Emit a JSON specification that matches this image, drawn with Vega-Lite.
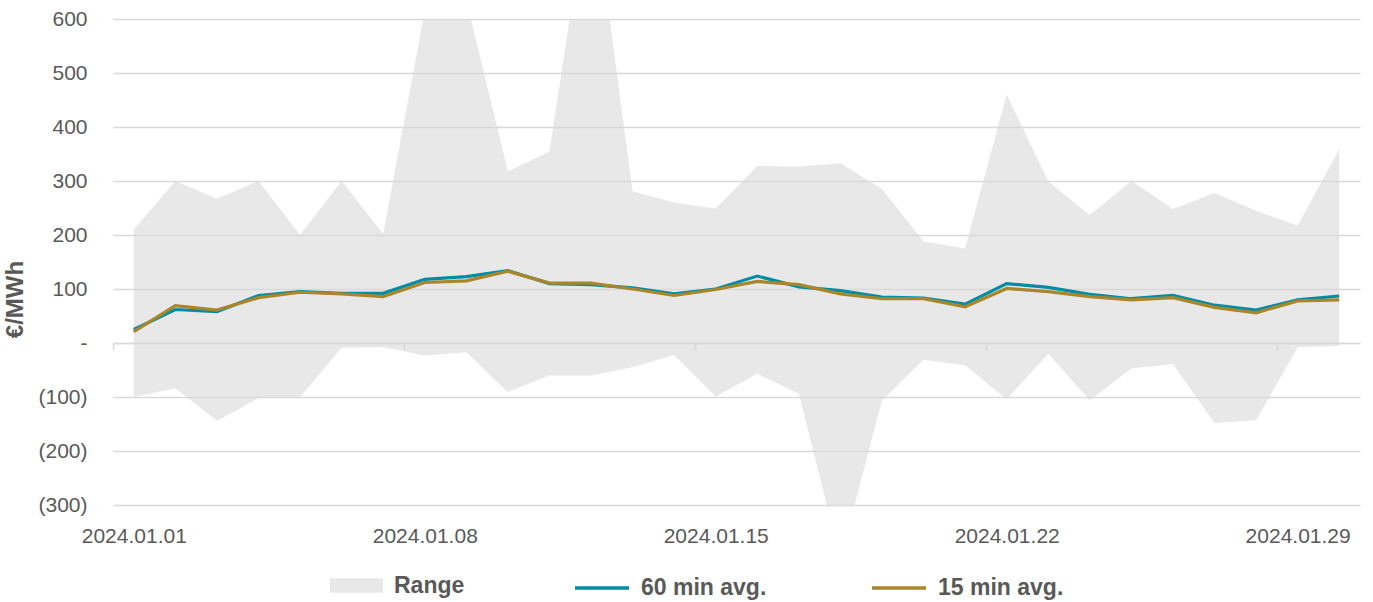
{
  "$schema": "https://vega.github.io/schema/vega-lite/v6.json",
  "autosize": "none",
  "width": 1247,
  "height": 486,
  "padding": {"left": 113, "top": 19, "right": 13, "bottom": 97},
  "background": "white",
  "config": {
    "view": {"stroke": null},
    "font": "Liberation Sans",
    "axis": {"labelFont": "Liberation Sans", "titleFont": "Liberation Sans"},
    "legend": {"labelFont": "Liberation Sans"}
  },
  "data": {
    "values": [
      {"date": "2024-01-01T00:00", "min": -100, "max": 210, "avg60": 25, "avg15": 21},
      {"date": "2024-01-02T00:00", "min": -84, "max": 300, "avg60": 62, "avg15": 69},
      {"date": "2024-01-03T00:00", "min": -144, "max": 267, "avg60": 58, "avg15": 61},
      {"date": "2024-01-04T00:00", "min": -102, "max": 300, "avg60": 88, "avg15": 84},
      {"date": "2024-01-05T00:00", "min": -100, "max": 200, "avg60": 95, "avg15": 94},
      {"date": "2024-01-06T00:00", "min": -9, "max": 300, "avg60": 92, "avg15": 91},
      {"date": "2024-01-07T00:00", "min": -8, "max": 202, "avg60": 92, "avg15": 86},
      {"date": "2024-01-08T00:00", "min": -23, "max": 615, "avg60": 118, "avg15": 112},
      {"date": "2024-01-09T00:00", "min": -17, "max": 635, "avg60": 123, "avg15": 115},
      {"date": "2024-01-10T00:00", "min": -91, "max": 318, "avg60": 134, "avg15": 133},
      {"date": "2024-01-11T00:00", "min": -60, "max": 354, "avg60": 110, "avg15": 111},
      {"date": "2024-01-12T00:00", "min": -60, "max": 860, "avg60": 108, "avg15": 111},
      {"date": "2024-01-13T00:00", "min": -45, "max": 281, "avg60": 102, "avg15": 100},
      {"date": "2024-01-14T00:00", "min": -22, "max": 260, "avg60": 91, "avg15": 88},
      {"date": "2024-01-15T00:00", "min": -99, "max": 249, "avg60": 100, "avg15": 99},
      {"date": "2024-01-16T00:00", "min": -57, "max": 328, "avg60": 124, "avg15": 114},
      {"date": "2024-01-17T00:00", "min": -94, "max": 327, "avg60": 104, "avg15": 108},
      {"date": "2024-01-18T00:00", "min": -400, "max": 333, "avg60": 97, "avg15": 91},
      {"date": "2024-01-19T00:00", "min": -106, "max": 285, "avg60": 85, "avg15": 82},
      {"date": "2024-01-20T00:00", "min": -31, "max": 188, "avg60": 83, "avg15": 82},
      {"date": "2024-01-21T00:00", "min": -41, "max": 175, "avg60": 72, "avg15": 67},
      {"date": "2024-01-22T00:00", "min": -104, "max": 460, "avg60": 110, "avg15": 101},
      {"date": "2024-01-23T00:00", "min": -20, "max": 299, "avg60": 103, "avg15": 95},
      {"date": "2024-01-24T00:00", "min": -106, "max": 237, "avg60": 90, "avg15": 86},
      {"date": "2024-01-25T00:00", "min": -47, "max": 300, "avg60": 82, "avg15": 80},
      {"date": "2024-01-26T00:00", "min": -39, "max": 248, "avg60": 88, "avg15": 84},
      {"date": "2024-01-27T00:00", "min": -148, "max": 278, "avg60": 70, "avg15": 66},
      {"date": "2024-01-28T00:00", "min": -143, "max": 245, "avg60": 61, "avg15": 56},
      {"date": "2024-01-29T00:00", "min": -8, "max": 217, "avg60": 80, "avg15": 78},
      {"date": "2024-01-30T00:00", "min": -5, "max": 359, "avg60": 87, "avg15": 80}
    ]
  },
  "resolve": {"axis": {"x": "independent"}},
  "layer": [
    {
      "mark": {"type": "area", "clip": true, "opacity": 0.6},
      "encoding": {
        "x": {
          "field": "date", "type": "temporal",
          "scale": {"domain": [{"year": 2023, "month": 12, "date": 31, "hours": 12}, {"year": 2024, "month": 1, "date": 30, "hours": 12}]},
          "axis": {
            "orient": "bottom",
            "title": null, "grid": false, "domain": false, "ticks": false,
            "values": [{"year": 2024, "month": 1, "date": 1}, {"year": 2024, "month": 1, "date": 8}, {"year": 2024, "month": 1, "date": 15}, {"year": 2024, "month": 1, "date": 22}, {"year": 2024, "month": 1, "date": 29}],
            "format": "%Y.%m.%d", "labelFontSize": 21, "labelColor": "#595959", "labelPadding": 20, "labelFlush": false, "labelOverlap": false
          }
        },
        "y": {
          "field": "min", "type": "quantitative",
          "scale": {"domain": [-300, 600], "nice": false, "zero": false},
          "axis": {
            "title": "€/MWh", "titleFontSize": 24, "titleFontWeight": "bold", "titleColor": "#595959", "titlePadding": 10, "titleY": 280,
            "values": [-300, -200, -100, 0, 100, 200, 300, 400, 500, 600],
            "labelExpr": "datum.value == 0 ? '-' : (datum.value < 0 ? '(' + format(-datum.value, 'd') + ')' : format(datum.value, 'd'))",
            "labelFontSize": 21, "labelColor": "#595959", "labelPadding": 26,
            "domain": false, "ticks": false, "grid": true, "gridColor": "#d9d9d9", "gridWidth": 1.5
          }
        },
        "y2": {"field": "max"},
        "fill": {
          "datum": "Range",
          "scale": {"domain": ["Range"], "range": ["#d9d9d9"]},
          "legend": {
            "orient": "none", "legendX": 217, "legendY": 540, "title": null, "padding": 0,
            "labelFontSize": 23, "labelFontWeight": "bold", "labelColor": "#595959", "labelOffset": 11,
            "symbolType": "M-1,-0.27H1V0.27H-1Z", "symbolSize": 2809, "symbolOpacity": 0.6, "symbolStrokeWidth": 0
          }
        }
      }
    },
    {
      "mark": {"type": "line", "strokeWidth": 3.2, "clip": true},
      "encoding": {
        "x": {
          "field": "date", "type": "temporal",
          "axis": {
            "orient": "bottom",
            "title": null, "grid": false, "labels": false, "offset": -162,
            "domain": true, "domainColor": "#d9d9d9", "domainWidth": 1.5,
            "ticks": true, "tickColor": "#d9d9d9", "tickWidth": 1.5, "tickSize": 7,
            "values": [{"year": 2023, "month": 12, "date": 31, "hours": 12}, {"year": 2024, "month": 1, "date": 7, "hours": 12}, {"year": 2024, "month": 1, "date": 14, "hours": 12}, {"year": 2024, "month": 1, "date": 21, "hours": 12}, {"year": 2024, "month": 1, "date": 28, "hours": 12}]
          }
        },
        "y": {"field": "avg60", "type": "quantitative"},
        "stroke": {
          "datum": "60 min avg.",
          "scale": {"domain": ["60 min avg.", "15 min avg."], "range": ["#008ca5", "#a8862a"]},
          "legend": {
            "orient": "none", "legendX": 460, "legendY": 540, "title": null, "padding": 0, "direction": "horizontal",
            "labelFontSize": 23, "labelFontWeight": "bold", "labelColor": "#595959", "labelOffset": 10,
            "columnPadding": 98, "symbolType": "M-1,0H1", "symbolSize": 2916, "symbolStrokeWidth": 3.5
          }
        }
      }
    },
    {
      "mark": {"type": "line", "strokeWidth": 3.2, "clip": true},
      "encoding": {
        "x": {"field": "date", "type": "temporal", "axis": null},
        "y": {"field": "avg15", "type": "quantitative"},
        "stroke": {"datum": "15 min avg."}
      }
    }
  ]
}
